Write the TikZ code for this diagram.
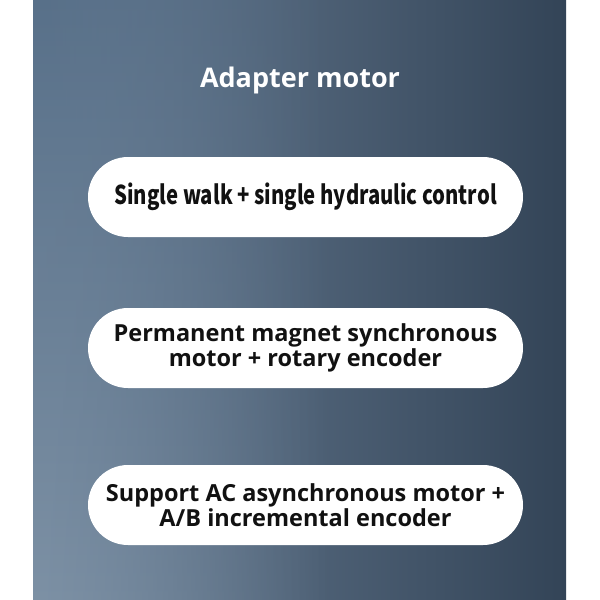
\documentclass[tikz,border=0pt]{standalone}
\usepackage{fontspec}
\usetikzlibrary{fadings}
\IfFontExistsTF{Noto Sans Bold}
  {\setmainfont{Noto Sans}[BoldFont={Noto Sans Bold}]}
  {\setmainfont{Open Sans}}
\newfontfamily\cjk{Noto Sans CJK SC}
\definecolor{bgleft}{HTML}{6A7F96}
\definecolor{bgmid}{HTML}{40586F}
\definecolor{bgright}{HTML}{334457}
\definecolor{bglefttop}{HTML}{587089}
\definecolor{bgleftbot}{HTML}{7D91A5}
\definecolor{txt}{HTML}{111111}
\begin{document}
\begin{tikzpicture}[x=1pt,y=-1pt,
  pill/.style={fill=white, rounded corners=40pt, minimum width=435pt, minimum height=80pt, inner sep=0pt, text=txt, align=center},
  pilltext/.style={font=\fontsize{23.5}{22.5}\selectfont\bfseries},
  titletext/.style={font=\fontsize{27}{30}\selectfont\bfseries, text=white}]
\useasboundingbox (0,0) rectangle (600,600);
\fill[white] (0,0) rectangle (600,600);
\shade[left color=bgleft, middle color=bgmid, right color=bgright] (33,0) rectangle (566,600);
\shade[top color=bglefttop, bottom color=bgleftbot, path fading=east] (33,0) rectangle (330,600);
\node[titletext] (title) at (300,80) {Adapter motor};
\node[pill, font=\cjk\fontsize{26}{26}\selectfont\bfseries] (p1) at (305.5,197) {\scalebox{0.78}[1]{Single walk + single hydraulic control}};
\node[pill, pilltext] (p2) at (305.5,348) {Permanent magnet synchronous\\motor + rotary encoder};
\node[pill, pilltext] (p3) at (305.5,505) {Support AC asynchronous motor +\\A/B incremental encoder};
\end{tikzpicture}
\end{document}
